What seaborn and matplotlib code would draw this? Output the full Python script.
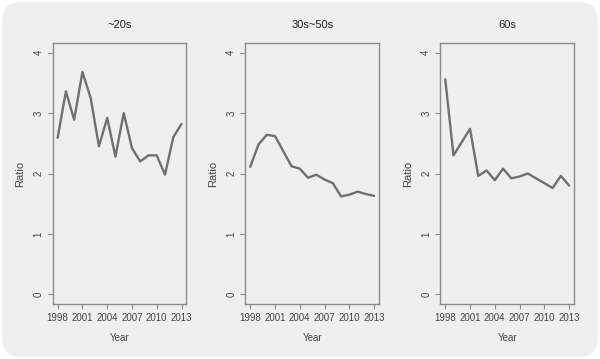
import numpy as np
import pandas as pd
import matplotlib
matplotlib.use("Agg")
import matplotlib.pyplot as plt
import seaborn as sns
from matplotlib.patches import FancyBboxPatch

# 연령대별 비율 데이터
years = list(range(1998, 2014))
groups = ["~20s", "30s~50s", "60s"]
ratio_20s = [2.59, 3.36, 2.89, 3.68, 3.25, 2.45, 2.92, 2.28, 3.00, 2.42, 2.20, 2.30, 2.30, 1.98, 2.60, 2.82]
ratio_30s_50s = [2.11, 2.48, 2.64, 2.62, 2.37, 2.12, 2.08, 1.93, 1.98, 1.90, 1.84, 1.62, 1.65, 1.70, 1.66, 1.63]
ratio_60s = [3.56, 2.30, 2.52, 2.74, 1.96, 2.05, 1.89, 2.08, 1.92, 1.95, 2.00, 1.92, 1.84, 1.76, 1.96, 1.80]
x_ticks = [1998, 2001, 2004, 2007, 2010, 2013]
y_ticks = [0, 1, 2, 3, 4]

df = pd.DataFrame({
    "Year": years * 3,
    "Ratio": ratio_20s + ratio_30s_50s + ratio_60s,
    "group": [g for g in groups for _ in years],
})

sns.set_style("white")
plt.rcParams["font.family"] = ["Liberation Sans", "DejaVu Sans"]

bg = "#efefef"
ink = "#444444"
edge = "#8a8a8a"

fig = plt.figure(figsize=(6, 3.59), dpi=100)
fig.patch.set_facecolor("white")

# 둥근 회색 배경
bg_ax = fig.add_axes([0, 0, 1, 1], zorder=-10)
bg_ax.set_axis_off()
bg_ax.add_patch(FancyBboxPatch((0.004, 0.006), 0.992, 0.988,
                               boxstyle="round,pad=0,rounding_size=0.03",
                               transform=bg_ax.transAxes, facecolor=bg,
                               edgecolor="none", mutation_aspect=600 / 359))

lefts = [0.0878, 0.4088, 0.7338]
for left, g in zip(lefts, groups):
    ax = fig.add_axes([left, 0.1532, 0.223, 0.727])
    ax.set_facecolor(bg)
    sns.lineplot(data=df[df["group"] == g], x="Year", y="Ratio", ax=ax,
                 color="#707070", linewidth=1.7)
    ax.set_xlim(1997.4, 2013.6)
    ax.set_ylim(-0.16, 4.16)
    ax.set_xticks(x_ticks)
    ax.set_yticks(y_ticks)
    ax.set_yticklabels([str(v) for v in y_ticks], rotation=90, va="center")
    ax.tick_params(axis="both", direction="out", length=3.5, width=0.8,
                   color=edge, labelcolor=ink, labelsize=7, pad=3,
                   bottom=True, left=True)
    for sp in ax.spines.values():
        sp.set_color(edge)
        sp.set_linewidth(1.0)
    ax.set_title(g, fontsize=8, color="#222222", pad=11)
    ax.set_xlabel("Year", fontsize=7, color=ink, labelpad=7)
    ax.set_ylabel("Ratio", fontsize=8, color=ink, labelpad=6)
    ax.grid(False)

fig.savefig("out.png", dpi=100, facecolor="white")
